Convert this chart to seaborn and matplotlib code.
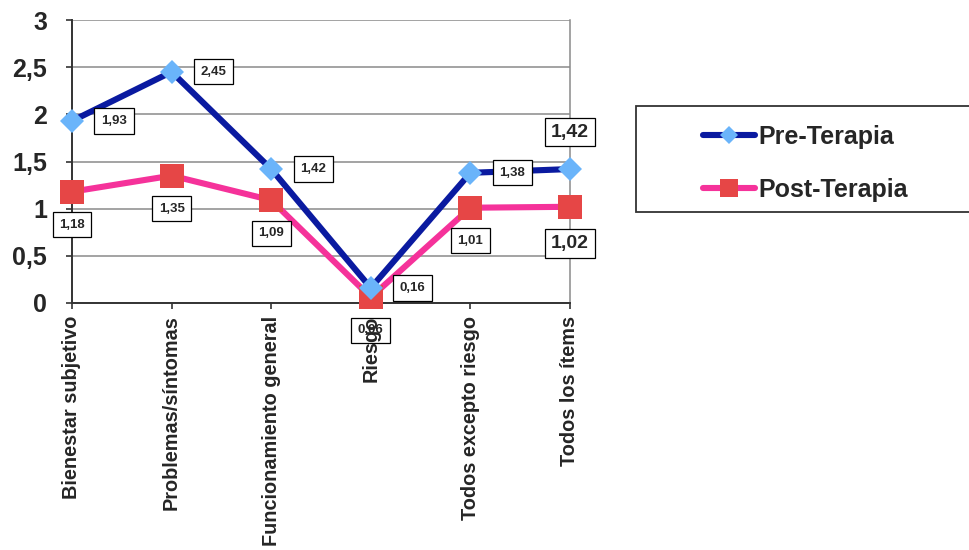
import numpy as np
import pandas as pd
import matplotlib
matplotlib.use('Agg')
import matplotlib.pyplot as plt
from matplotlib.lines import Line2D
from matplotlib.patches import Rectangle
import seaborn as sns

categories = ['Bienestar subjetivo', 'Problemas/síntomas', 'Funcionamiento general',
              'Riesgo', 'Todos excepto riesgo', 'Todos los ítems']
pre_values = [1.93, 2.45, 1.42, 0.16, 1.38, 1.42]
post_values = [1.18, 1.35, 1.09, 0.06, 1.01, 1.02]
pre_labels = ['1,93', '2,45', '1,42', '0,16', '1,38', '1,42']
post_labels = ['1,18', '1,35', '1,09', '0,06', '1,01', '1,02']
y_ticks = [0, 0.5, 1, 1.5, 2, 2.5, 3]
y_tick_labels = ['0', '0,5', '1', '1,5', '2', '2,5', '3']

sns.set_style('white')
plt.rcParams['font.family'] = ['Liberation Sans', 'DejaVu Sans']
plt.rcParams['font.weight'] = 'bold'

PRE_LINE = '#0A1AA0'
PRE_MARK = '#6AB4FA'
POST_LINE = '#F5329A'
POST_MARK = '#E64646'

fig = plt.figure(figsize=(9.7, 5.5), dpi=100)
ax = fig.add_axes([72/970, 1-303/550, 498/970, 283/550])

df = pd.DataFrame({'Categoria': categories, 'Pre': pre_values, 'Post': post_values})

sns.lineplot(data=df, x='Categoria', y='Pre', sort=False, ax=ax,
             color=PRE_LINE, linewidth=4.4, marker='D', markersize=12,
             markerfacecolor=PRE_MARK, markeredgewidth=0, zorder=4, clip_on=False)
sns.lineplot(data=df, x='Categoria', y='Post', sort=False, ax=ax,
             color=POST_LINE, linewidth=4.4, marker='s', markersize=17,
             markerfacecolor=POST_MARK, markeredgewidth=0, zorder=3, clip_on=False)

ax.set_xlim(0, len(categories)-1)
ax.set_ylim(0, 3)
ax.set_yticks(y_ticks)
ax.set_yticklabels(y_tick_labels, fontsize=18, fontweight='bold')
ax.set_xticks(range(len(categories)))
ax.set_xticklabels(categories, rotation=90, fontsize=14.3, fontweight='bold', va='top', ha='center')
ax.set_xlabel('')
ax.set_ylabel('')

ax.yaxis.grid(True, color='#8a8a8a', linewidth=1.1)
ax.xaxis.grid(False)
ax.set_axisbelow(True)
for side in ['left', 'bottom']:
    ax.spines[side].set_color('#333333')
    ax.spines[side].set_linewidth(1.4)
ax.spines['top'].set_visible(False)
ax.spines['right'].set_color('#8a8a8a')
ax.spines['right'].set_linewidth(1.1)
ax.tick_params(axis='y', direction='out', length=4, width=1.2, color='#333333', pad=14, left=True)
ax.tick_params(axis='x', direction='out', length=4, width=1.2, color='#333333', pad=5, bottom=True)

small_box = dict(boxstyle='square,pad=0.5', fc='white', ec='black', lw=0.9)
big_box = dict(boxstyle='square,pad=0.3', fc='white', ec='black', lw=0.9)
last = len(categories) - 1
for i, (v, lab) in enumerate(zip(pre_values, pre_labels)):
    if i == last:
        ax.annotate(lab, (i, v), xytext=(0, 37), textcoords='offset pixels',
                    ha='center', va='center', fontsize=14, fontweight='bold',
                    bbox=big_box, annotation_clip=False, zorder=6)
    else:
        ax.annotate(lab, (i, v), xytext=(42, 0), textcoords='offset pixels',
                    ha='center', va='center', fontsize=9.5, fontweight='bold',
                    bbox=small_box, annotation_clip=False, zorder=6)
for i, (v, lab) in enumerate(zip(post_values, post_labels)):
    if i == last:
        ax.annotate(lab, (i, v), xytext=(0, -37), textcoords='offset pixels',
                    ha='center', va='center', fontsize=14, fontweight='bold',
                    bbox=big_box, annotation_clip=False, zorder=6)
    else:
        # the Riesgo box sits under the tick label, as in the original
        ax.annotate(lab, (i, v), xytext=(0, -33), textcoords='offset pixels',
                    ha='center', va='center', fontsize=9.5, fontweight='bold',
                    bbox=small_box, annotation_clip=False,
                    zorder=0.3 if categories[i] == 'Riesgo' else 6)

# legend box
fig.patches.append(Rectangle((636/970, 1-212/550), 340/970, 106/550,
                             transform=fig.transFigure, fc='white', ec='#333333', lw=1.3))
handles = [
    Line2D([], [], color=PRE_LINE, lw=4.4, marker='D', markersize=9.5,
           markerfacecolor=PRE_MARK, markeredgewidth=0),
    Line2D([], [], color=POST_LINE, lw=4.4, marker='s', markersize=12.5,
           markerfacecolor=POST_MARK, markeredgewidth=0),
]
fig.legend(handles, ['Pre-Terapia', 'Post-Terapia'], loc='upper left',
           bbox_to_anchor=(703/970, 1-125/550), frameon=False,
           prop={'size': 18, 'weight': 'bold'}, handlelength=2.1,
           handletextpad=0.1, labelspacing=1.15, borderaxespad=0, borderpad=0)

fig.savefig('out.png', dpi=100)
